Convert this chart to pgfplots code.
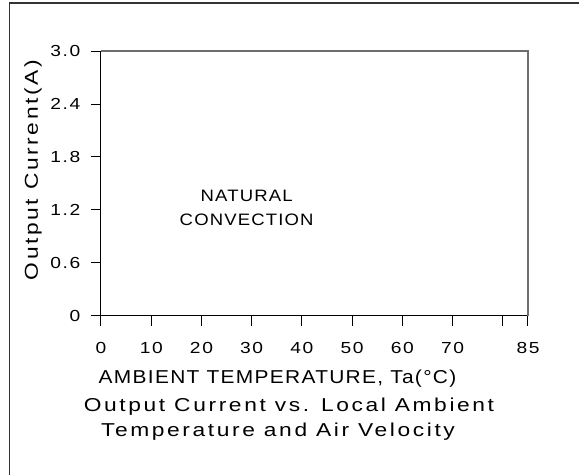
\documentclass[border=0pt]{standalone}
\usepackage{fontspec}
\setmainfont{Liberation Sans}[FakeStretch=1.12, LetterSpace=7]
\newfontfamily\mixfont{Liberation Sans}[FakeStretch=1.22, LetterSpace=14]
\newfontfamily\tickfont{Liberation Sans}[FakeStretch=1.2, LetterSpace=10]
\usepackage{pgfplots}
\pgfplotsset{compat=1.18}

\definecolor{curve}{RGB}{110,110,110}

\begin{document}
\begin{tikzpicture}[x=0.75pt, y=0.75pt]
\path[use as bounding box] (0,0) rectangle (579,475);
% outer frame (only left and top edges fall inside the picture)
\begin{scope}
  \clip (0,0) rectangle (579,475);
  \draw[line width=1.2pt, black!80] (9.5,-20) rectangle (600,472);
\end{scope}

\begin{axis}[
    at={(75.75pt,119.25pt)}, anchor=origin,
    width=320.25pt, height=198.75pt, scale only axis,
    axis lines=left, axis line style={-, line width=0.75pt},
    xmin=0, xmax=85, ymin=0, ymax=3,
    clip=false,
    tick align=outside,
    major tick length=7.5pt,
    tick style={black, line width=0.75pt},
    xtick={0,10,20,30,40,50,60,70,80,85},
    xticklabels={0,10,20,30,40,50,60,70,,85},
    ytick={0,0.6,1.2,1.8,2.4,3.0},
    yticklabels={0,0.6,1.2,1.8,2.4,3.0},
    ticklabel style={font=\tickfont\fontsize{12}{14}\selectfont},
    xticklabel style={yshift=-8.5pt},
    yticklabel style={xshift=-4.5pt},
]
\addplot[curve, line width=1.5pt] coordinates {(0,3) (85,3) (85,0)};
\node[align=center, font=\fontsize{12.4}{18}\selectfont] at (axis cs:29,1.22) {NATURAL\\CONVECTION};
\end{axis}

\node[rotate=90, font=\mixfont\fontsize{14}{16}\selectfont] at (33,305) {Output Current(A)};
\node[font=\fontsize{14}{16}\selectfont] at (277.5,96) {AMBIENT TEMPERATURE, Ta(\textdegree C)};
\node[font=\mixfont\fontsize{14}{16}\selectfont] at (289,68) {Output Current vs. Local Ambient};
\node[font=\mixfont\fontsize{14}{16}\selectfont] at (278,43) {Temperature and Air Velocity};
\end{tikzpicture}
\end{document}
